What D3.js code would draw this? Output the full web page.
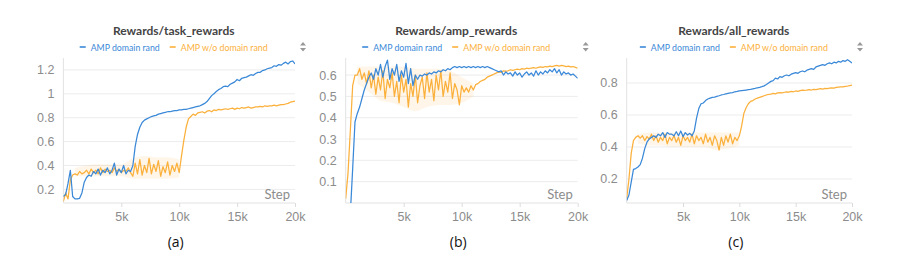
<!DOCTYPE html>
<html>
<head>
<meta charset="utf-8">
<script src="https://cdn.jsdelivr.net/npm/d3@7"></script>
<style>
	body { margin: 0; background: #fff; }
	svg { display: block; font-family: Lato, "Noto Sans", sans-serif; }
	.grid line { stroke: #ececec; }
	.axis text { fill: #8c8c8c; font-size: 12.5px; }
</style>
</head>
<body>
<svg id="viz" width="897" height="266"></svg>
<script>
// steps: every 200 from 0 to 20k, bands every 1k
var steps = d3.range( 0, 20001, 200 );
var bandSteps = d3.range( 0, 20001, 1000 );

var seriesNames = [ 'AMP domain rand', 'AMP w/o domain rand' ];
var colors = [ '#3a88d8', '#fbb03b' ];

var titles = [ 'Rewards/task_rewards', 'Rewards/amp_rewards', 'Rewards/all_rewards' ];
var captions = [ '(a)', '(b)', '(c)' ];
var xTicks = [ 5000, 10000, 15000, 20000 ];

var taskTicks = [ 0.2, 0.4, 0.6, 0.8, 1, 1.2 ];
var ampTicks = [ 0.1, 0.2, 0.3, 0.4, 0.5, 0.6 ];
var allTicks = [ 0.2, 0.4, 0.6, 0.8 ];

var taskBlue = [
	0.14, 0.16, 0.25, 0.36, 0.14, 0.12, 0.12, 0.125, 0.17, 0.26,
	0.30, 0.32, 0.31, 0.35, 0.33, 0.37, 0.32, 0.36, 0.34, 0.38,
	0.33, 0.36, 0.42, 0.32, 0.37, 0.34, 0.40, 0.33, 0.36, 0.35,
	0.40, 0.56, 0.66, 0.72, 0.76, 0.78, 0.79, 0.80, 0.81, 0.815,
	0.82, 0.83, 0.835, 0.84, 0.845, 0.85, 0.85, 0.855, 0.86, 0.86,
	0.865, 0.865, 0.87, 0.87, 0.875, 0.88, 0.885, 0.89, 0.895, 0.90,
	0.91, 0.92, 0.935, 0.96, 0.985, 1.0, 1.02, 1.035, 1.045, 1.06,
	1.065, 1.06, 1.08, 1.09, 1.10, 1.12, 1.11, 1.13, 1.135, 1.14,
	1.15, 1.16, 1.155, 1.17, 1.18, 1.18, 1.195, 1.2, 1.21, 1.215,
	1.22, 1.235, 1.23, 1.245, 1.24, 1.255, 1.265, 1.25, 1.27, 1.275,
	1.25
];
var taskOrange = [
	0.10, 0.17, 0.12, 0.28, 0.32, 0.33, 0.32, 0.35, 0.33, 0.34,
	0.36, 0.33, 0.37, 0.34, 0.36, 0.33, 0.38, 0.34, 0.37, 0.35,
	0.36, 0.34, 0.38, 0.35, 0.37, 0.34, 0.36, 0.35, 0.38, 0.34,
	0.31, 0.42, 0.33, 0.45, 0.32, 0.40, 0.34, 0.46, 0.33, 0.41,
	0.35, 0.44, 0.31, 0.39, 0.34, 0.43, 0.32, 0.40, 0.35, 0.42,
	0.34, 0.48, 0.61, 0.72, 0.79, 0.81, 0.83, 0.82, 0.84, 0.845,
	0.85, 0.84, 0.855, 0.86, 0.85, 0.865, 0.86, 0.87, 0.865, 0.87,
	0.875, 0.87, 0.875, 0.88, 0.87, 0.88, 0.875, 0.885, 0.88, 0.885,
	0.89, 0.88, 0.885, 0.89, 0.89, 0.895, 0.89, 0.9, 0.895, 0.9,
	0.9, 0.905, 0.9, 0.905, 0.91, 0.91, 0.915, 0.92, 0.93, 0.935,
	0.94
];
var taskOrangeLo = [ null, 0.31, 0.31, 0.31, 0.31, 0.31, 0.29, 0.29, 0.29, 0.29, 0.30, null,
	null, null, null, null, null, null, null, null, null ];
var taskOrangeHi = [ null, 0.38, 0.40, 0.41, 0.41, 0.41, 0.46, 0.48, 0.47, 0.47, 0.45, null,
	null, null, null, null, null, null, null, null, null ];

var ampBlue = [
	null, null, -0.05, 0.16, 0.38, 0.42, 0.45, 0.49, 0.53, 0.56,
	0.59, 0.61, 0.58, 0.63, 0.60, 0.65, 0.59, 0.64, 0.67, 0.58,
	0.63, 0.60, 0.65, 0.57, 0.62, 0.59, 0.655, 0.56, 0.63, 0.55,
	0.60, 0.58, 0.60, 0.595, 0.605, 0.60, 0.61, 0.605, 0.615, 0.61,
	0.62, 0.615, 0.625, 0.62, 0.63, 0.625, 0.635, 0.64, 0.635, 0.64,
	0.635, 0.64, 0.635, 0.64, 0.635, 0.64, 0.635, 0.64, 0.635, 0.64,
	0.635, 0.64, 0.635, 0.63, 0.625, 0.62, 0.615, 0.62, 0.60, 0.615,
	0.605, 0.61, 0.595, 0.615, 0.60, 0.61, 0.59, 0.605, 0.615, 0.60,
	0.61, 0.595, 0.62, 0.60, 0.615, 0.605, 0.62, 0.61, 0.625, 0.615,
	0.63, 0.61, 0.625, 0.60, 0.615, 0.605, 0.61, 0.60, 0.605, 0.595,
	0.585
];
var ampOrange = [
	0.02, 0.14, 0.34, 0.55, 0.60, 0.60, 0.63, 0.58, 0.61, 0.56,
	0.62, 0.54, 0.60, 0.51, 0.59, 0.53, 0.62, 0.49, 0.58, 0.54,
	0.61, 0.50, 0.57, 0.47, 0.60, 0.52, 0.58, 0.45, 0.56, 0.50,
	0.60, 0.47, 0.55, 0.59, 0.49, 0.61, 0.52, 0.58, 0.48, 0.60,
	0.53, 0.62, 0.50, 0.57, 0.52, 0.61, 0.49, 0.56, 0.53, 0.46,
	0.55, 0.52, 0.54, 0.52, 0.55, 0.53, 0.555, 0.56, 0.57, 0.575,
	0.58, 0.59, 0.595, 0.60, 0.605, 0.61, 0.615, 0.612, 0.62, 0.618,
	0.62, 0.625, 0.622, 0.625, 0.628, 0.625, 0.63, 0.628, 0.632, 0.63,
	0.633, 0.635, 0.632, 0.636, 0.638, 0.636, 0.64, 0.638, 0.642, 0.64,
	0.643, 0.645, 0.642, 0.645, 0.643, 0.64, 0.642, 0.638, 0.64, 0.636,
	0.632
];
var ampOrangeLo = [ null, 0.56, 0.52, 0.48, 0.47, 0.45, 0.43, 0.45, 0.46, 0.46, 0.47, 0.50,
	null, null, null, null, null, null, null, null, null ];
var ampOrangeHi = [ null, 0.64, 0.64, 0.64, 0.64, 0.64, 0.63, 0.63, 0.63, 0.62, 0.59, 0.56,
	null, null, null, null, null, null, null, null, null ];

var allBlue = [
	0.065, 0.10, 0.18, 0.26, 0.265, 0.275, 0.29, 0.33, 0.39, 0.43,
	0.45, 0.46, 0.47, 0.46, 0.48, 0.47, 0.49, 0.46, 0.49, 0.48,
	0.48, 0.47, 0.495, 0.47, 0.50, 0.465, 0.49, 0.475, 0.485, 0.47,
	0.50, 0.58, 0.64, 0.67, 0.675, 0.69, 0.70, 0.705, 0.71, 0.712,
	0.716, 0.72, 0.725, 0.728, 0.732, 0.735, 0.738, 0.74, 0.745, 0.747,
	0.75, 0.752, 0.754, 0.756, 0.758, 0.76, 0.763, 0.766, 0.77, 0.773,
	0.777, 0.782, 0.79, 0.80, 0.81, 0.815, 0.83, 0.825, 0.84, 0.835,
	0.845, 0.85, 0.845, 0.855, 0.86, 0.865, 0.86, 0.87, 0.875, 0.87,
	0.88, 0.885, 0.89, 0.885, 0.90, 0.905, 0.91, 0.915, 0.91, 0.92,
	0.925, 0.92, 0.93, 0.925, 0.935, 0.93, 0.94, 0.935, 0.945, 0.935,
	0.925
];
var allOrange = [
	0.08, 0.20, 0.36, 0.44, 0.46, 0.47, 0.455, 0.47, 0.44, 0.465,
	0.45, 0.48, 0.44, 0.47, 0.43, 0.46, 0.44, 0.48, 0.42, 0.46,
	0.44, 0.47, 0.43, 0.46, 0.41, 0.47, 0.44, 0.46, 0.43, 0.48,
	0.42, 0.47, 0.44, 0.46, 0.42, 0.48, 0.43, 0.46, 0.41, 0.47,
	0.44, 0.38, 0.46, 0.41, 0.47, 0.43, 0.48, 0.42, 0.46, 0.44,
	0.47, 0.53, 0.61, 0.645, 0.67, 0.685, 0.69, 0.70, 0.705, 0.71,
	0.715, 0.72, 0.725, 0.728, 0.73, 0.735, 0.732, 0.738, 0.74, 0.738,
	0.742, 0.745, 0.743, 0.747, 0.745, 0.75, 0.748, 0.752, 0.755, 0.753,
	0.756, 0.758, 0.756, 0.76, 0.758, 0.762, 0.764, 0.762, 0.766, 0.765,
	0.768, 0.77, 0.768, 0.772, 0.774, 0.776, 0.775, 0.779, 0.781, 0.784,
	0.787
];
var allOrangeLo = [ null, 0.42, 0.41, 0.41, 0.40, 0.40, 0.40, 0.40, 0.38, 0.39, 0.41, null,
	null, null, null, null, null, null, null, null, null ];
var allOrangeHi = [ null, 0.48, 0.49, 0.49, 0.49, 0.49, 0.49, 0.49, 0.49, 0.49, 0.49, null,
	null, null, null, null, null, null, null, null, null ];

var panels = [
	{ left: 63.4, right: 295, domain: [ 0.086, 1.3 ], ticks: taskTicks, series: [ taskBlue, taskOrange ], band: [ taskOrangeLo, taskOrangeHi ] },
	{ left: 345.7, right: 577.7, domain: [ 0, 0.68 ], ticks: ampTicks, series: [ ampBlue, ampOrange ], band: [ ampOrangeLo, ampOrangeHi ] },
	{ left: 626.7, right: 852, domain: [ 0.05, 0.956 ], ticks: allTicks, series: [ allBlue, allOrange ], band: [ allOrangeLo, allOrangeHi ] }
];

var plotTop = 58, plotBottom = 203;
var legendWidths = [ 69, 87 ];
var svg = d3.select( '#viz' );

panels.forEach( function ( p, k ) {

	var x = d3.scaleLinear().domain( [ 0, 20000 ] ).range( [ p.left, p.right ] );
	var y = d3.scaleLinear().domain( p.domain ).range( [ plotBottom, plotTop ] );
	var g = svg.append( 'g' );
	var mid = ( p.left + p.right ) / 2 - 5.5;

	// grid
	g.append( 'g' ).attr( 'class', 'grid' ).selectAll( 'line' )
		.data( p.ticks ).enter().append( 'line' )
		.attr( 'x1', p.left ).attr( 'x2', p.right )
		.attr( 'y1', function ( d ) { return y( d ); } )
		.attr( 'y2', function ( d ) { return y( d ); } );

	// y axis
	var ya = g.append( 'g' ).attr( 'class', 'axis' ).attr( 'transform', 'translate(' + p.left + ',0)' )
		.call( d3.axisLeft( y ).tickValues( p.ticks ).tickSize( 0 ).tickPadding( 9 ).tickFormat( d3.format( '~g' ) ) );
	ya.select( '.domain' ).attr( 'd', 'M0,' + plotTop + 'V' + plotBottom ).attr( 'stroke', '#e2e2e2' );

	// x axis
	var xa = g.append( 'g' ).attr( 'class', 'axis' ).attr( 'transform', 'translate(0,' + plotBottom + ')' )
		.call( d3.axisBottom( x ).tickValues( xTicks ).tickSize( 4 ).tickPadding( 5 ).tickFormat( function ( d ) { return d / 1000 + 'k'; } ) );
	xa.select( '.domain' ).attr( 'd', 'M' + p.left + ',0H' + p.right ).attr( 'stroke', '#e2e2e2' );
	xa.selectAll( '.tick line' ).attr( 'stroke', '#dcdcdc' );

	g.append( 'text' ).attr( 'x', p.right - 5 ).attr( 'y', plotBottom - 4 )
		.attr( 'text-anchor', 'end' ).style( 'font-size', '13px' ).style( 'fill', '#8c8c8c' ).text( 'Step' );

	// lines
	svg.append( 'clipPath' ).attr( 'id', 'clip' + k ).append( 'rect' )
		.attr( 'x', p.left ).attr( 'y', plotTop ).attr( 'width', p.right - p.left ).attr( 'height', plotBottom - plotTop );
	var plot = g.append( 'g' ).attr( 'clip-path', 'url(#clip' + k + ')' );

	// min/max band of the noisy run
	var area = d3.area()
		.defined( function ( d, i ) { return p.band[0][i] !== null; } )
		.curve( d3.curveMonotoneX )
		.x( function ( d, i ) { return x( bandSteps[i] ); } )
		.y0( function ( d, i ) { return y( p.band[0][i] ); } )
		.y1( function ( d, i ) { return y( p.band[1][i] ); } );
	plot.append( 'path' ).attr( 'd', area( bandSteps ) )
		.attr( 'fill', colors[1] ).attr( 'fill-opacity', 0.11 );

	var line = d3.line()
		.defined( function ( d ) { return d !== null; } )
		.x( function ( d, i ) { return x( steps[i] ); } )
		.y( function ( d ) { return y( d ); } );
	plot.selectAll( 'path.run' )
		.data( [ p.series[1], p.series[0] ] ).enter().append( 'path' )
		.attr( 'class', 'run' )
		.attr( 'd', line )
		.attr( 'fill', 'none' )
		.attr( 'stroke-width', 1.25 )
		.attr( 'stroke-linejoin', 'round' )
		.attr( 'stroke', function ( d, i ) { return colors[1 - i]; } );

	// title + legend
	g.append( 'text' ).attr( 'x', mid ).attr( 'y', 35 ).attr( 'text-anchor', 'middle' )
		.style( 'font-size', '12px' ).style( 'font-weight', 700 ).style( 'fill', '#444' ).text( titles[k] );

	var leg = g.append( 'g' ).attr( 'transform', 'translate(' + ( mid - 94 ) + ',47)' );
	var lx = 0;
	seriesNames.forEach( function ( name, i ) {
		leg.append( 'line' ).attr( 'x1', lx ).attr( 'x2', lx + 6 ).attr( 'y1', 0 ).attr( 'y2', 0 )
			.attr( 'stroke', colors[i] ).attr( 'stroke-width', 1.6 );
		leg.append( 'text' ).attr( 'x', lx + 11 ).attr( 'y', 3.5 )
			.attr( 'textLength', legendWidths[i] ).attr( 'lengthAdjust', 'spacingAndGlyphs' )
			.style( 'font-size', '9.5px' ).style( 'fill', colors[i] ).text( name );
		lx += 11 + legendWidths[i] + 10;
	} );

	// sort arrows icon
	var ix = p.right + 8;
	g.append( 'path' ).attr( 'd', 'M' + ( ix - 3 ) + ',45.5L' + ix + ',42L' + ( ix + 3 ) + ',45.5Z M' + ( ix - 3 ) + ',48L' + ix + ',51.5L' + ( ix + 3 ) + ',48Z' )
		.attr( 'fill', '#999' );

	// caption
	g.append( 'text' ).attr( 'x', mid + 2 ).attr( 'y', 247 ).attr( 'text-anchor', 'middle' )
		.style( 'font-size', '14px' ).style( 'fill', '#111' ).style( 'font-family', '"Open Sans", sans-serif' ).text( captions[k] );

} );
</script>
</body>
</html>
